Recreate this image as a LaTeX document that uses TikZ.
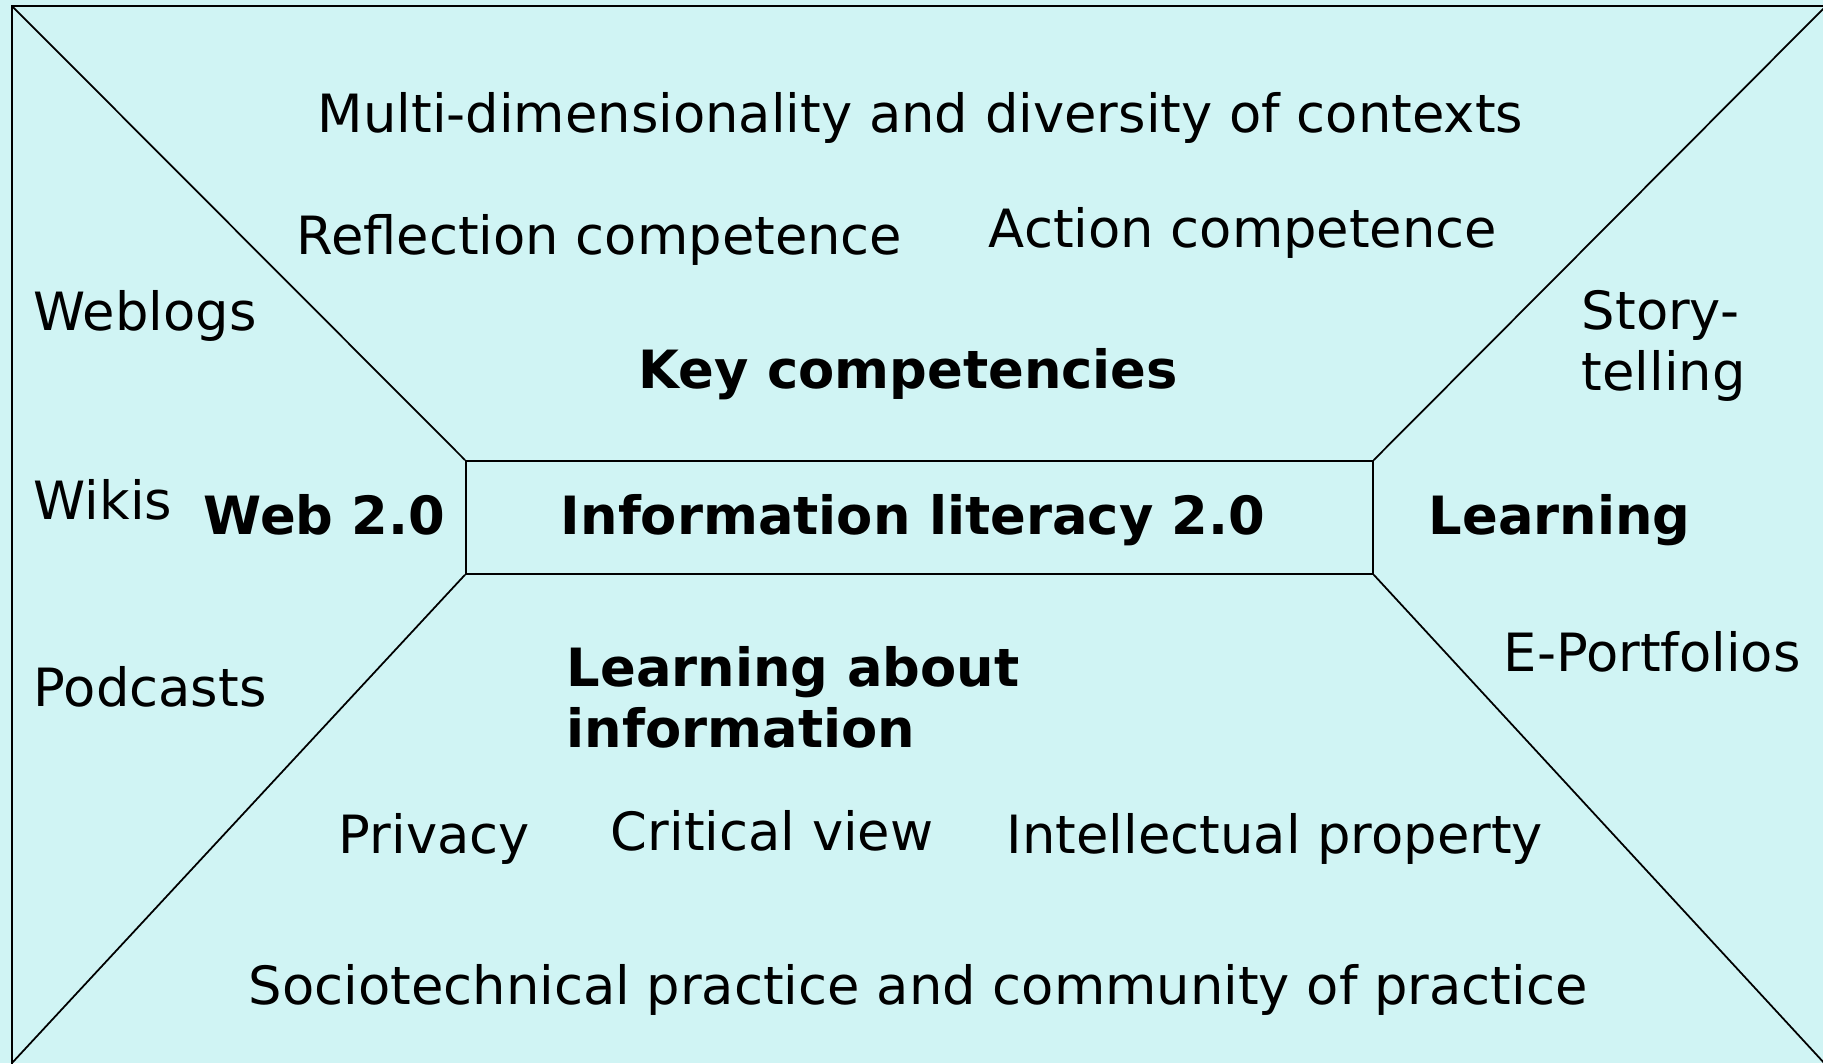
\documentclass[tikz,border=0pt]{standalone}
\usepackage{fontspec}
\setmainfont{DejaVu Sans}
\usepackage{tikz}
\usetikzlibrary{positioning}
\definecolor{paleaqua}{RGB}{208,244,244}
\tikzset{
  lbl/.style={anchor=base west,inner sep=0pt,font=\fontsize{15}{17.2}\selectfont,align=left},
  boldlbl/.style={lbl,font=\fontsize{15}{17.2}\selectfont\bfseries},
}

\begin{document}
\begin{tikzpicture}[x=0.1mm,y=-0.1mm,line width=0.5pt]
  \fill[paleaqua] (0,0) rectangle (1823,1063);
  \clip (0,0) rectangle (1823,1063);
  % frame and its corners
  \coordinate (tl) at (12,6);
  \coordinate (tr) at (1826,6);
  \coordinate (bl) at (12,1063);
  \coordinate (br) at (1826,1065);
  \draw[line width=0.6pt] (tl) rectangle (br);

  \node[draw,minimum width=90.7mm,minimum height=11.3mm,inner sep=0pt,anchor=north west] (infolit) at (465,460) {};
  \draw (tl) -- (infolit.north west);
  \draw (tr) -- (infolit.north east);
  \draw (bl) -- (infolit.south west);
  \draw (br) -- (infolit.south east);

  % top: key competencies
  \node[lbl] (contexts) at (317,132) {Multi-dimensionality and diversity of contexts};
  \node[lbl] (reflection) at (296,254) {Reflection competence};
  \node[lbl] (action) at (988,247) {Action competence};
  \node[boldlbl] (keycomp) at (638,388) {Key competencies};

  % left: web 2.0
  \node[lbl] (weblogs) at (33,330) {Weblogs};
  \node[lbl] (wikis) at (33,519) {Wikis};
  \node[boldlbl] (web) at (203,534) {Web 2.0};
  \node[lbl] (podcasts) at (33,706) {Podcasts};

  % centre
  \node[boldlbl] (infotext) at (560,534) {Information literacy 2.0};

  % right: learning
  \node[lbl] (story) at (1581,390) {Story-\\telling};
  \node[boldlbl] (learning) at (1428,534) {Learning};
  \node[lbl] (portfolios) at (1503,671) {E-Portfolios};

  % bottom: learning about information
  \node[boldlbl] (aboutinfo) at (566,747) {Learning about\\information};
  \node[lbl] (privacy) at (338,853) {Privacy};
  \node[lbl] (critical) at (610,850) {Critical view};
  \node[lbl] (property) at (1006,853) {Intellectual property};
  \node[lbl] (practice) at (248,1004) {Sociotechnical practice and community of practice};
\end{tikzpicture}
\end{document}
